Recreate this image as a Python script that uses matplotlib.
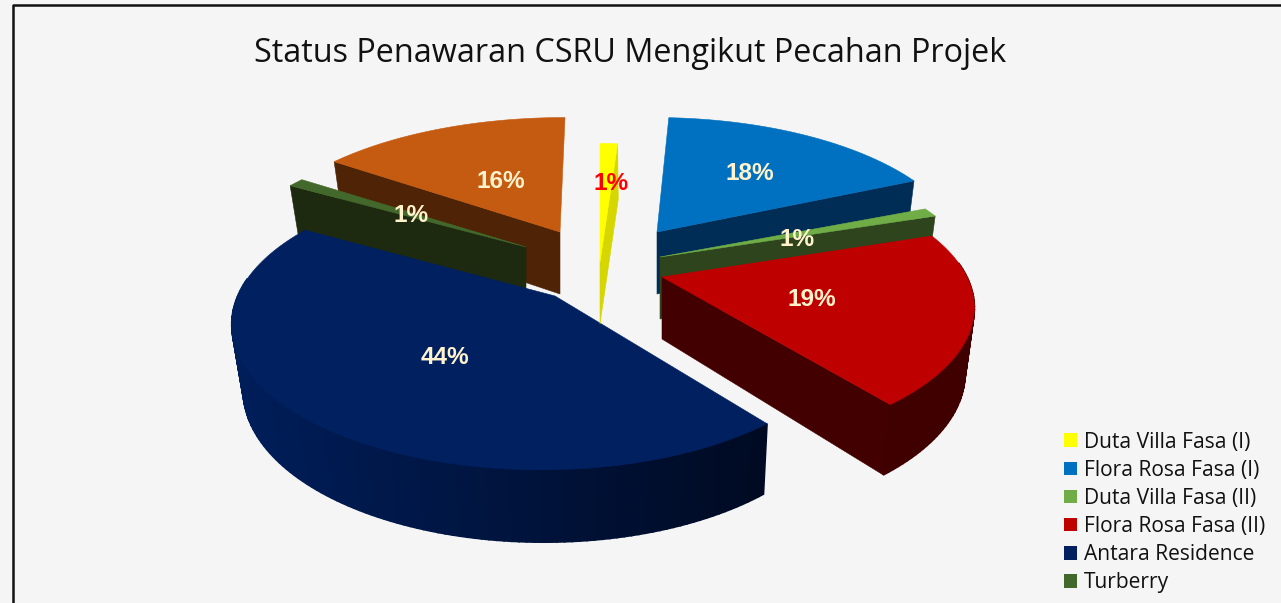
import numpy as np
import matplotlib
matplotlib.use("Agg")
import matplotlib.pyplot as plt
from matplotlib.patches import Polygon, Patch

# data, clockwise from 12 o'clock
percent = [1, 18, 1, 19, 44, 1, 16]
legend_names = ["Duta Villa Fasa (I)", "Flora Rosa Fasa (I)", "Duta Villa Fasa (II)",
                "Flora Rosa Fasa (II)", "Antara Residence", "Turberry"]
title = "Status Penawaran CSRU Mengikut Pecahan Projek"

# styling per slice
top_colors = ["#FFFF00", "#0070C0", "#70AD47", "#BE0000", "#002060", "#43682B", "#C55A11"]
wall_colors = ["#D6D600", "#002D56", "#2D441C", "#430000", "#001A50", "#1E2A10", "#4F2305"]
arc_left = ["#D6D600", "#002D56", "#2D441C", "#5A0000", "#001E5A", "#1E2A10", "#4F2305"]
arc_right = ["#D6D600", "#002D56", "#2D441C", "#400000", "#000A22", "#1E2A10", "#4F2305"]
label_colors = ["#FF0000"] + ["#FFF2CC"] * 6

# exploded centre of each slice's rim, its visible tip, and its radius scale (pixels)
apex = [(600, 255), (654, 229), (660, 257), (662, 277), (541, 293), (526, 247), (565, 229)]
tip = [(600, 262), (657, 232), (660, 257), (662, 277), (555, 296), (526, 247), (560, 232)]
x_scale = [1.2, 1.01, 1.03, 1.01, 1.0, 1.0, 1.03]
y_scale = [1.0, 1.0, 1.0, 1.0, 1.025, 1.0, 1.0]
label_pos = [(611, 184), (750, 174), (797, 240), (812, 299), (445, 358), (411, 215), (501, 181)]
draw_order = [6, 5, 4, 0, 1, 2, 3]

RX, RY = 302, 142
PX, PY = 0.226, 0.215
DEPTH = 64


def top_point(i, theta):
    c = np.cos(theta)
    s = np.sin(theta)
    x = apex[i][0] + RX * x_scale[i] * s * (1 - PX * c)
    y = apex[i][1] - RY * y_scale[i] * c * (1 - PY * c)
    return x, y


def low_point(i, theta):
    x, y = top_point(i, theta)
    d = DEPTH * (1 - 0.13 * np.cos(theta))
    return x + (640 - x) * 0.028, y + d


def low_tip(i):
    return tip[i][0], tip[i][1] + 62


def blend(c1, c2, t):
    a = np.array(matplotlib.colors.to_rgb(c1))
    b = np.array(matplotlib.colors.to_rgb(c2))
    return a + (b - a) * t


fig = plt.figure(figsize=(12.81, 6.03), dpi=100, facecolor="#F5F5F5")
ax = fig.add_axes([0, 0, 1, 1])
ax.set_xlim(0, 1281)
ax.set_ylim(603, 0)
ax.axis("off")

ax.plot([12.5, 12.5, 1281], [603, 5, 5], color="#111111", lw=1.8, solid_capstyle="butt")

edges = np.cumsum([0] + percent) / sum(percent) * 2 * np.pi

for i in draw_order:
    t0, t1 = edges[i], edges[i + 1]
    thetas = np.linspace(t0, t1, max(3, int(percent[i] * 3)))

    # radial walls first, only the ones turned toward the viewer
    for t, normal in ((t0, t0 - np.pi / 2), (t1, t1 + np.pi / 2)):
        if np.cos(normal) > -0.01:
            continue
        wall = [tip[i], top_point(i, t), low_point(i, t), low_tip(i)]
        ax.add_patch(Polygon(wall, closed=True, fc=wall_colors[i], ec=wall_colors[i], lw=0.4, zorder=len(ax.patches)))

    # outer rim in small strips so it can shade from left to right
    for a, b in zip(thetas[:-1], thetas[1:]):
        if np.cos((a + b) / 2) > 0.1:
            continue
        quad = [top_point(i, a), top_point(i, b), low_point(i, b), low_point(i, a)]
        shade = (top_point(i, a)[0] - 232) / (770 - 232)
        col = blend(arc_left[i], arc_right[i], np.clip(shade, 0, 1))
        ax.add_patch(Polygon(quad, closed=True, fc=col, ec=col, lw=1.2, zorder=len(ax.patches)))

    face = [tip[i]] + [top_point(i, t) for t in thetas]
    ax.add_patch(Polygon(face, closed=True, fc=top_colors[i], ec=top_colors[i], lw=0.4, zorder=len(ax.patches)))

z = len(ax.patches) + 10
for v, pos, col in zip(percent, label_pos, label_colors):
    ax.text(pos[0], pos[1], "{}%".format(v), color=col, fontsize=17.6, fontweight="bold",
            family="Liberation Sans", ha="center", va="center", zorder=z)

ax.text(630.5, 54, title, fontsize=23.35, family="Open Sans", ha="center", va="center", color="#111111", zorder=z)

handles = [Patch(fc=c, ec="none") for c in top_colors[:6]]
leg = ax.legend(handles, legend_names, loc="lower left", bbox_to_anchor=(1049 / 1281, -5 / 603), frameon=False,
                prop={"family": "Open Sans", "size": 15.1}, handlelength=0.62, handleheight=0.62,
                handletextpad=0.33, labelspacing=0.34, borderpad=0.3, borderaxespad=0.4)
for t in leg.get_texts():
    t.set_color("#111111")

fig.savefig("out.png", dpi=100, facecolor=fig.get_facecolor())
